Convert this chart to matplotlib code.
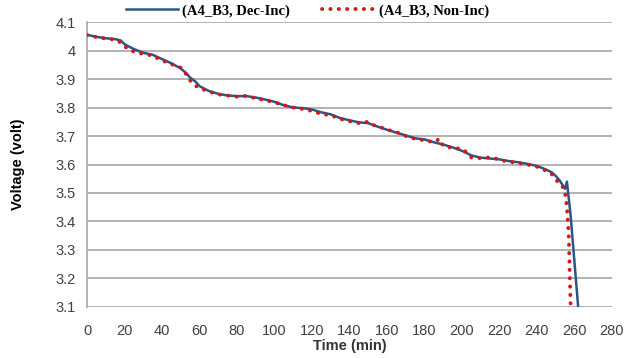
import numpy as np
import matplotlib.pyplot as plt

# blue solid curve: (A4_B3, Dec-Inc)
t_dec = [0, 5, 10, 15, 18, 20, 25, 30, 35, 40, 45, 50, 53, 55, 58, 60, 65, 70, 75, 80,
         85, 90, 95, 100, 105, 110, 115, 120, 125, 130, 135, 140, 145, 150, 155, 160,
         165, 170, 175, 180, 185, 190, 195, 200, 205, 210, 215, 220, 225, 230, 235,
         240, 245, 248, 250, 252, 254, 255, 256, 257, 258, 259, 260, 261, 262]
v_dec = [4.055, 4.048, 4.043, 4.040, 4.035, 4.022, 4.005, 3.992, 3.985, 3.970, 3.955,
         3.937, 3.920, 3.905, 3.890, 3.875, 3.858, 3.848, 3.842, 3.840, 3.840, 3.835,
         3.828, 3.820, 3.808, 3.800, 3.798, 3.793, 3.783, 3.776, 3.763, 3.755, 3.748,
         3.745, 3.733, 3.722, 3.712, 3.702, 3.692, 3.688, 3.678, 3.670, 3.660, 3.648,
         3.632, 3.624, 3.621, 3.618, 3.612, 3.608, 3.602, 3.595, 3.582, 3.572, 3.560,
         3.545, 3.525, 3.515, 3.540, 3.480, 3.420, 3.340, 3.260, 3.180, 3.100]

# red dotted curve: (A4_B3, Non-Inc)
t_non = [0, 5, 10, 15, 18, 20, 23, 27, 30, 35, 40, 45, 50, 52, 55, 57, 60, 65, 70, 75,
         80, 85, 90, 95, 100, 105, 110, 115, 120, 125, 130, 135, 140, 145, 150, 153,
         157, 160, 165, 170, 175, 180, 185, 188, 190, 195, 200, 203, 205, 210, 215,
         220, 223, 225, 230, 235, 240, 245, 248, 250, 252, 254, 255, 256, 257, 257.5, 258]
v_non = [4.055, 4.047, 4.042, 4.038, 4.028, 4.015, 4.000, 3.993, 3.988, 3.982, 3.965,
         3.952, 3.940, 3.925, 3.895, 3.880, 3.868, 3.856, 3.846, 3.842, 3.838, 3.841,
         3.832, 3.826, 3.818, 3.808, 3.800, 3.795, 3.788, 3.777, 3.773, 3.760, 3.752,
         3.745, 3.750, 3.738, 3.730, 3.722, 3.714, 3.700, 3.690, 3.685, 3.678, 3.690,
         3.665, 3.658, 3.655, 3.640, 3.625, 3.622, 3.625, 3.618, 3.612, 3.610, 3.605,
         3.600, 3.592, 3.578, 3.565, 3.550, 3.530, 3.520, 3.500, 3.450, 3.350, 3.220, 3.100]

x_ticks = list(range(0, 281, 20))
y_ticks = [3.1, 3.2, 3.3, 3.4, 3.5, 3.6, 3.7, 3.8, 3.9, 4.0, 4.1]
y_labels = ['3.1', '3.2', '3.3', '3.4', '3.5', '3.6', '3.7', '3.8', '3.9', '4', '4.1']

fig = plt.figure(figsize=(6.32, 3.58), dpi=100)
ax = fig.add_axes([0.1377, 0.1425, 0.8305, 0.796])

ax.plot(t_dec, v_dec, color='#2a5586', lw=1.8, label='(A4_B3, Dec-Inc)', zorder=3)
ax.plot(t_non, v_non, color='#d01818', lw=2.8, ls=(0, (0.05, 2.1)),
        dash_capstyle='round', label='(A4_B3, Non-Inc)', zorder=4)

ax.set_xlim(0, 280)
ax.set_ylim(3.1, 4.1)
ax.set_xticks(x_ticks)
ax.set_yticks(y_ticks)
ax.set_yticklabels(y_labels)
ax.tick_params(length=0, labelsize=10.5, labelcolor='#404040', pad=8)
for lab in ax.get_xticklabels() + ax.get_yticklabels():
    lab.set_family('Liberation Sans')
ax.tick_params(axis='x', pad=12)

ax.grid(axis='y', color='#a6a6a6', lw=1.2)
ax.set_axisbelow(True)
for s in ['top', 'right', 'bottom']:
    ax.spines[s].set_visible(False)
ax.spines['left'].set_color('#a6a6a6')
ax.spines['left'].set_linewidth(1.2)

ax.set_xlabel('Time (min)', fontsize=10.5, fontweight='bold', family='Liberation Sans',
              color='#333333', labelpad=1)
ax.set_ylabel('Voltage (volt)', fontsize=10.5, fontweight='bold', family='Liberation Sans',
              labelpad=22)

ax.legend(loc='lower center', bbox_to_anchor=(0.42, 0.99), ncol=2, frameon=False,
          prop={'family': 'Liberation Serif', 'weight': 'bold', 'size': 10.5},
          handlelength=3.6, columnspacing=2.2, handletextpad=0.3, borderpad=0)

fig.savefig('out.png', dpi=100)
